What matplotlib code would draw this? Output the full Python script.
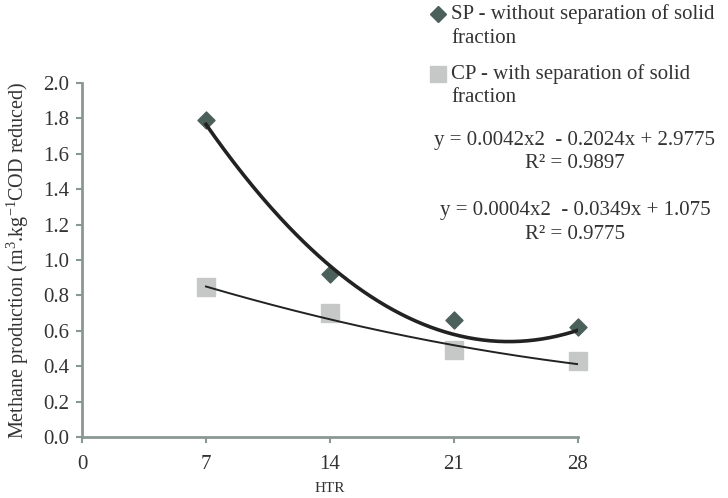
import numpy as np
import matplotlib.pyplot as plt
from matplotlib.lines import Line2D

plt.rcParams["font.family"] = ["Liberation Serif", "DejaVu Serif"]
plt.rcParams["mathtext.fontset"] = "custom"
plt.rcParams["mathtext.rm"] = "Liberation Serif"
plt.rcParams["mathtext.it"] = "Liberation Serif:italic"

htr = [7, 14, 21, 28]
sp = [1.79, 0.92, 0.66, 0.62]
cp = [0.85, 0.70, 0.49, 0.43]

# trendline coefficients as printed on the chart
sp_coef = [0.0042, -0.2024, 2.9775]
cp_coef = [0.0004, -0.0349, 1.075]
sp_label = ["SP - without separation of solid", "fraction"]
cp_label = ["CP - with separation of solid", "fraction"]
sp_eq = ["y = 0.0042x2  - 0.2024x + 2.9775", "R² = 0.9897"]
cp_eq = ["y = 0.0004x2  - 0.0349x + 1.075", "R² = 0.9775"]

axis_col = "#8a9893"
text_col = "#333333"
sp_col = "#4b5f5b"
cp_col = "#c6c8c7"
fs = 15

fig = plt.figure(figsize=(7.28, 4.98), dpi=100)
ax = fig.add_axes([0.1126, 0.1225, 0.6813, 0.7108])

xs = np.linspace(htr[0], htr[-1], 200)
ax.plot(xs, np.polyval(sp_coef, xs), color="#222222", linewidth=2.6, zorder=3)
ax.plot(xs, np.polyval(cp_coef, xs), color="#222222", linewidth=1.4, zorder=3)
ax.scatter(htr, sp, marker="D", s=75, color=sp_col, zorder=2, clip_on=False)
ax.scatter(htr, cp, marker="s", s=150, color=cp_col, zorder=2, clip_on=False)

ax.set_xlim(0, 28)
ax.set_ylim(0, 2.0)
ax.set_xticks([0, 7, 14, 21, 28])
ax.set_yticks(np.arange(0, 2.01, 0.2))
ax.set_yticklabels([f"{v:.1f}" for v in np.arange(0, 2.01, 0.2)])
for s in ["top", "right"]:
    ax.spines[s].set_visible(False)
for s in ["left", "bottom"]:
    ax.spines[s].set_color(axis_col)
    ax.spines[s].set_linewidth(2)
ax.tick_params(direction="out", length=4, width=1.5, color=axis_col,
               labelcolor=text_col, labelsize=fs, pad=5)
ax.tick_params(axis="x", pad=9)

ax.set_xlabel("HTR", fontsize=11, color=text_col, labelpad=6)
ax.set_ylabel(r"Methane production (m$^3$.kg$^{-1}$COD reduced)",
              fontsize=14.5, color=text_col, labelpad=9)

# legend entries (markers aligned with first text line)
for ypix, mk, col, ms, lines in [(14, "D", sp_col, 8, sp_label),
                                 (74, "s", cp_col, 11, cp_label)]:
    fig.add_artist(Line2D([438 / 728], [1 - ypix / 498], marker=mk,
                          color=col, markersize=ms, linestyle="none",
                          transform=fig.transFigure))
    for i, t in enumerate(lines):
        fig.text(451 / 728, 1 - (ypix + 24 * i) / 498, t, fontsize=fs,
                 color=text_col, va="center", ha="left")

for ypix, lines in [(141, sp_eq), (211, cp_eq)]:
    for i, t in enumerate(lines):
        fig.text(575 / 728, 1 - (ypix + 23 * i) / 498, t, fontsize=fs,
                 color=text_col, va="center", ha="center")

fig.savefig("out.png", dpi=100)
